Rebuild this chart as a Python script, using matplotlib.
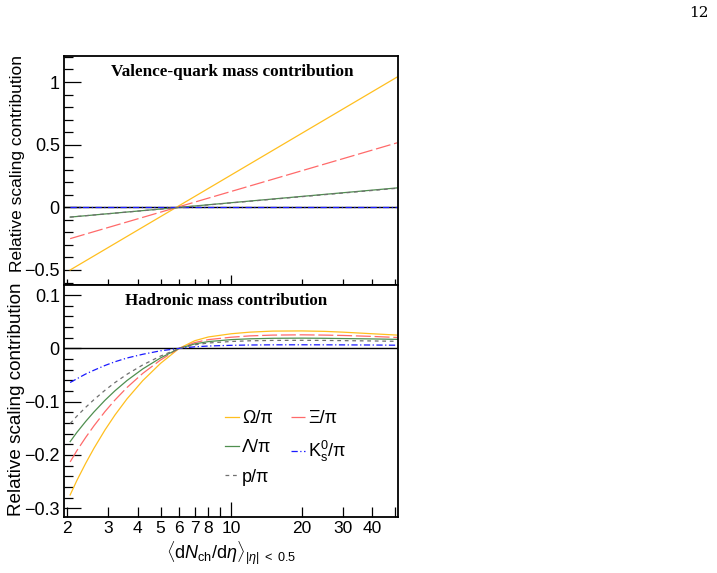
import matplotlib
matplotlib.use("Agg")
import matplotlib.pyplot as plt
from matplotlib.ticker import MultipleLocator

plt.rcParams['font.family'] = ['Liberation Sans', 'DejaVu Sans']
plt.rcParams['mathtext.fontset'] = 'custom'
plt.rcParams['mathtext.rm'] = 'Liberation Sans'
plt.rcParams['mathtext.it'] = 'Liberation Sans:italic'
plt.rcParams['mathtext.sf'] = 'Liberation Sans'

# valence-quark mass contribution (straight in log x)
x_val = [2.06, 51.0]
val_omega = [-0.50, 1.04]
val_xi = [-0.25, 0.515]
val_lambda = [-0.078, 0.155]
val_proton = [-0.078, 0.152]
val_k0s = [0.0, 0.0]

# hadronic mass contribution
x_had = [2.06, 2.2, 2.4, 2.6, 2.9, 3.2, 3.6, 4.2, 5.0, 6.0, 7.0, 8.0,
         10, 12, 15, 20, 25, 30, 40, 51]
had_omega = [-0.275, -0.248, -0.2155, -0.1877, -0.153, -0.1248, -0.0946, -0.0605,
             -0.0281, 0.0, 0.0145, 0.0215, 0.0275, 0.0305, 0.0325, 0.0328,
             0.032, 0.0305, 0.0275, 0.025]
had_xi = [-0.213, -0.192, -0.167, -0.1455, -0.1185, -0.0967, -0.0733, -0.0469,
          -0.0218, 0.0, 0.011, 0.0165, 0.021, 0.0235, 0.025, 0.0255,
          0.025, 0.0243, 0.0225, 0.0205]
had_lambda = [-0.175, -0.1577, -0.137, -0.1194, -0.0973, -0.0794, -0.0602, -0.0385,
              -0.0179, 0.0, 0.0085, 0.0128, 0.0165, 0.018, 0.019, 0.0193,
              0.019, 0.0185, 0.0178, 0.017]
had_proton = [-0.141, -0.1272, -0.1105, -0.0963, -0.0785, -0.064, -0.0485, -0.031,
              -0.0144, 0.0, 0.0068, 0.0102, 0.013, 0.0143, 0.015, 0.0152,
              0.015, 0.0146, 0.014, 0.0133]
had_k0s = [-0.064, -0.057, -0.048, -0.041, -0.032, -0.025, -0.018, -0.011,
           -0.0045, 0.0, 0.003, 0.0045, 0.0058, 0.0064, 0.0067, 0.0068,
           0.0067, 0.0066, 0.0064, 0.006]

labels = ['\u03a9/\u03c0', '\u039e/\u03c0', '\u039b/\u03c0',
          'K$_{\\rm s}^{0}$/\u03c0', 'p/\u03c0']
styles = [
    dict(color='#ffbf1f', ls='-'),
    dict(color='#ff6a6a', ls=(0, (12, 3))),
    dict(color='#4f8f4f', ls='-'),
    dict(color='#1a1aff', ls=(0, (5, 2, 1, 2))),
    dict(color='#707070', ls=(0, (3, 3))),
]

xticks_minor = [2, 3, 4, 5, 6, 7, 8, 9, 20, 30, 40, 50]
xtick_labels = ['2', '3', '4', '5', '6', '7', '8', '', '20', '30', '40', '']

fig = plt.figure(figsize=(7.17, 5.73), dpi=100)
ax_top = fig.add_axes([0.0893, 0.5026, 0.4658, 0.4002])
ax_bot = fig.add_axes([0.0893, 0.0972, 0.4658, 0.4054])


def style_axis(ax):
    ax.set_xscale('log')
    ax.set_xlim(1.94, 51.4)
    for sp in ax.spines.values():
        sp.set_linewidth(1.3)
    ax.tick_params(which='both', direction='in', top=False, right=False,
                   labelsize=13, width=0.9)
    ax.tick_params(axis='y', which='major', length=12.5, pad=3)
    ax.tick_params(axis='y', which='minor', length=6.5)


top_series = [val_omega, val_xi, val_lambda, val_k0s, val_proton]
bot_series = [had_omega, had_xi, had_lambda, had_k0s, had_proton]

# top panel
style_axis(ax_top)
ax_top.axhline(0, color='black', lw=1.0, zorder=1)
for ys, st in zip(top_series, styles):
    ax_top.plot(x_val, ys, lw=0.9, zorder=2, **st)
ax_top.set_ylim(-0.62, 1.21)
ax_top.yaxis.set_minor_locator(MultipleLocator(0.1))
ax_top.set_yticks([-0.5, 0, 0.5, 1], labels=['\u22120.5', '0', '0.5', '1'])
ax_top.set_xticks([10], labels=[''])
ax_top.set_xticks(xticks_minor, labels=[''] * len(xticks_minor), minor=True)
ax_top.tick_params(axis='x', which='major', length=7)
ax_top.tick_params(axis='x', which='minor', length=4)
ax_top.text(0.503, 0.929, 'Valence-quark mass contribution', transform=ax_top.transAxes,
            ha='center', va='center', fontsize=12.3, fontweight='bold',
            family='Liberation Serif')

# bottom panel
style_axis(ax_bot)
ax_bot.axhline(0, color='black', lw=1.0, zorder=1)
handles = []
for ys, st, lab in zip(bot_series, styles, labels):
    h, = ax_bot.plot(x_had, ys, lw=0.9, zorder=2, label=lab, **st)
    handles.append(h)
ax_bot.set_ylim(-0.317, 0.119)
ax_bot.yaxis.set_minor_locator(MultipleLocator(0.02))
ax_bot.set_yticks([-0.3, -0.2, -0.1, 0, 0.1],
                  labels=['\u22120.3', '\u22120.2', '\u22120.1', '0', '0.1'])
ax_bot.set_xticks([10], labels=['10'])
ax_bot.set_xticks(xticks_minor, labels=xtick_labels, minor=True)
ax_bot.tick_params(axis='x', which='major', length=11, pad=3, labelsize=12.5)
ax_bot.tick_params(axis='x', which='minor', length=7, pad=3, labelsize=12.5)
ax_bot.text(0.485, 0.931, 'Hadronic mass contribution', transform=ax_bot.transAxes,
            ha='center', va='center', fontsize=12.2, fontweight='bold',
            family='Liberation Serif')

order = [0, 2, 4, 1, 3]
ax_bot.legend([handles[i] for i in order], [labels[i] for i in order], ncol=2,
              loc='upper left', bbox_to_anchor=(0.482, 0.462), frameon=False,
              fontsize=13, handlelength=0.75, handletextpad=0.2,
              columnspacing=1.0, labelspacing=0.68, borderpad=0, borderaxespad=0)

fig.text(0.025, 0.904, 'Relative scaling contribution', rotation=90,
         ha='center', va='top', fontsize=12.5)
fig.text(0.0235, 0.3037, 'Relative scaling contribution', rotation=90,
         ha='center', va='center', fontsize=13.6)
fig.text(0.3229, 0.035,
         r'$\langle\mathrm{d}N_{\mathrm{ch}}/\mathrm{d}\eta\rangle_{|\eta|\ <\ 0.5}$',
         ha='center', va='center', fontsize=13)
fig.text(0.989, 0.977, '12', ha='right', va='center', fontsize=11,
         family='DejaVu Serif')

fig.savefig('out.png', dpi=100)
